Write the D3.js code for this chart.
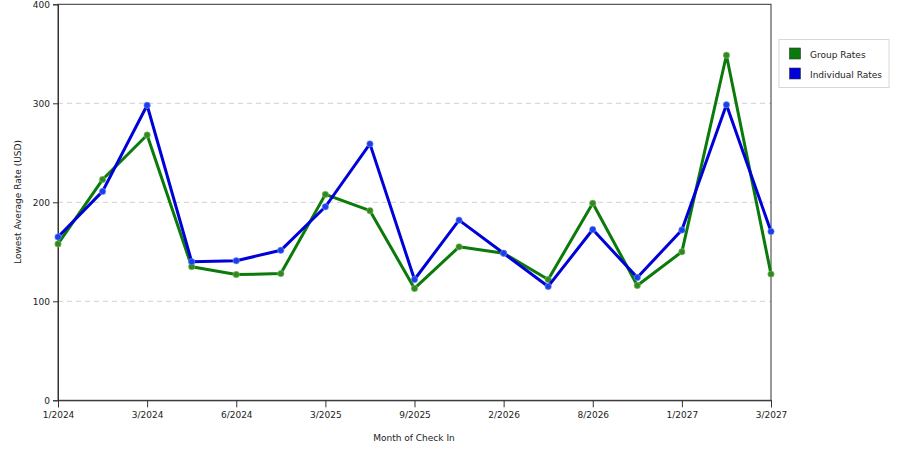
<!DOCTYPE html>
<html><head><meta charset="utf-8">
<script src="https://cdn.jsdelivr.net/npm/d3@7"></script>
<style>body{margin:0;background:#fff}svg{display:block}text{font-family:"DejaVu Sans",Verdana,sans-serif;fill:#222}</style>
</head><body><svg id="c" width="900" height="450"></svg>
<script>
const months = ["1/2024","2/2024","3/2024","5/2024","6/2024","8/2024","3/2025","6/2025","9/2025","12/2025","2/2026","5/2026","8/2026","11/2026","1/2027","2/2027","3/2027"];
const shownLabels = ["1/2024","3/2024","6/2024","3/2025","9/2025","2/2026","8/2026","1/2027","3/2027"];
const groupRates = [158,223,268,135,127,128,208,191.5,113,155,148.5,122,199,116,150,348.5,127.5];
const individualRates = [165,211,298,140,141,151.5,195.5,259,122,182,148.5,115,172.5,124,172,298.5,170.5];
const yTicks = [0,100,200,300,400];
const seriesNames = ["Group Rates","Individual Rates"];

const svg = d3.select("#c");
const L=58,R=771,T=4.3,B=400.3;
const x = d3.scalePoint().domain(months).range([L,R]);
const y = d3.scaleLinear().domain([0,400]).range([B,T]);

svg.append("g").selectAll("line").data(yTicks.filter(d=>d>0&&d<400)).join("line")
  .attr("x1",L).attr("x2",R).attr("y1",d=>y(d)).attr("y2",d=>y(d))
  .attr("stroke","#d0d0d0").attr("stroke-dasharray","5,4").attr("stroke-width",1);

svg.append("rect").attr("x",L).attr("y",T).attr("width",R-L).attr("height",B-T)
  .attr("fill","none").attr("stroke","#333").attr("stroke-width",1);

const ya = svg.append("g").attr("transform",`translate(${L},0)`)
  .call(d3.axisLeft(y).tickValues(yTicks).tickSize(5).tickPadding(3));
const xa = svg.append("g").attr("transform",`translate(0,${B})`)
  .call(d3.axisBottom(x).tickValues(shownLabels).tickSize(7).tickPadding(4));
[ya,xa].forEach(a=>{a.select(".domain").attr("stroke","#333");a.selectAll(".tick line").attr("stroke","#333");
  a.selectAll("text").style("font-family","DejaVu Sans, Verdana, sans-serif").attr("font-size","9px").attr("fill","#222");});

svg.append("text").attr("x",414).attr("y",441).attr("text-anchor","middle").attr("font-size","9px").text("Month of Check In");
svg.append("text").attr("transform","translate(21,202) rotate(-90)").attr("text-anchor","middle").attr("font-size","9px").text("Lowest Average Rate (USD)");

const series = [
  {name:seriesNames[0], vals:groupRates, color:"#0a7a0a", mark:"#2f8a22", halo:"#8fbf6a"},
  {name:seriesNames[1], vals:individualRates, color:"#0000d8", mark:"#1a3ee8", halo:"#7f9af5"}
];
const line = d3.line().x((d,i)=>x(months[i])).y(d=>y(d));
series.forEach(s=>{
  svg.append("path").datum(s.vals).attr("d",line).attr("fill","none")
    .attr("stroke",s.color).attr("stroke-width",3).attr("stroke-linejoin","round");
  svg.append("g").selectAll("circle").data(s.vals).join("circle")
    .attr("cx",(d,i)=>x(months[i])).attr("cy",d=>y(d)).attr("r",3.2)
    .attr("fill",s.mark).attr("stroke",s.halo).attr("stroke-opacity",0.6).attr("stroke-width",1);
});

const lg = svg.append("g");
lg.append("rect").attr("x",779).attr("y",39.5).attr("width",110).attr("height",48)
  .attr("fill","#fff").attr("stroke","#d8d8d8");
series.forEach((s,i)=>{
  lg.append("rect").attr("x",789.5).attr("y",48+i*20).attr("width",11).attr("height",11)
    .attr("fill",s.color).attr("stroke","#333").attr("stroke-width",0.6);
  lg.append("text").attr("x",810).attr("y",57.5+i*20).attr("font-size","9px").text(s.name);
});
</script></body></html>
